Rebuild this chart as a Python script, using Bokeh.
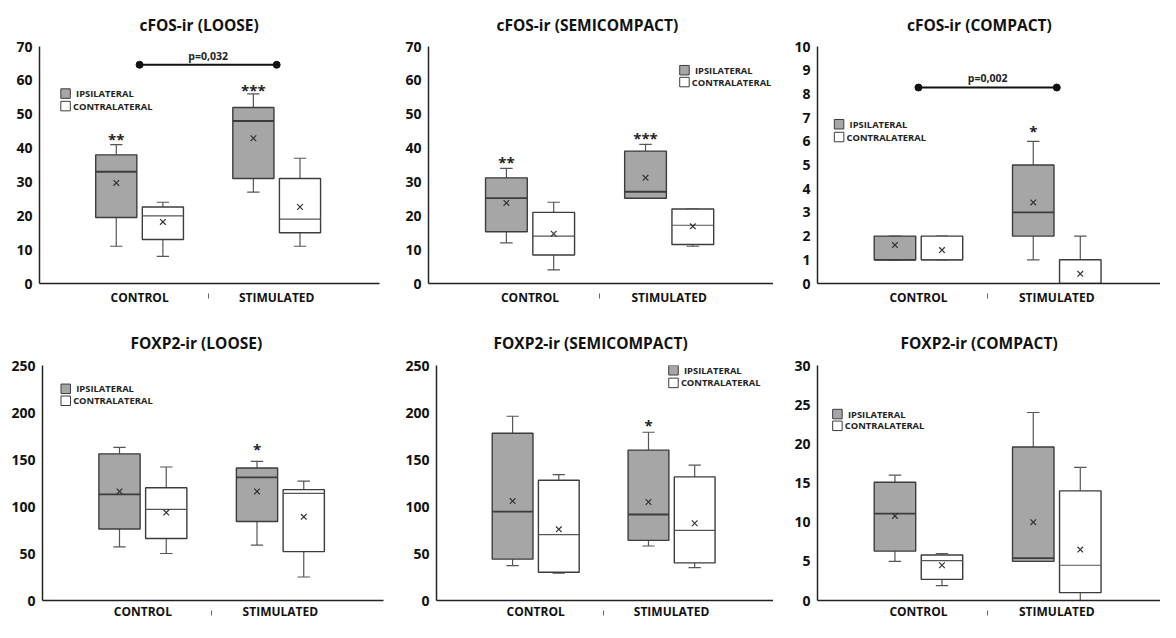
from bokeh.plotting import figure
from bokeh.layouts import column, row
from bokeh.models import Range1d, FixedTicker
from bokeh.core.properties import value
from bokeh.embed import file_html
from bokeh.resources import INLINE

# ---------------- data ----------------
CATEGORIES = ["CONTROL", "STIMULATED"]
SERIES = ["IPSILATERAL", "CONTRALATERAL"]
TITLES = ["cFOS-ir (LOOSE)", "cFOS-ir (SEMICOMPACT)", "cFOS-ir (COMPACT)",
          "FOXP2-ir (LOOSE)", "FOXP2-ir (SEMICOMPACT)", "FOXP2-ir (COMPACT)"]
Y_MAX = [70, 70, 10, 250, 250, 30]
Y_STEP = [10, 10, 1, 50, 50, 5]

# order inside each panel: control-ipsi, control-contra, stimulated-ipsi, stimulated-contra
WHISKER_LOW = [[11, 8, 27, 11], [12, 4, 25.2, 11], [1, 1, 1, 0],
               [57, 50, 59, 25], [37, 29, 58, 35], [5.0, 1.9, 5.0, 0]]
Q1 = [[19.5, 13, 31, 15], [15.3, 8.4, 25.2, 11.5], [1, 1, 2, 0],
      [76, 66, 84, 52], [44, 30, 64, 40], [6.3, 2.7, 5.0, 1.0]]
MEDIAN = [[33, 20, 48, 19], [25.2, 14, 27.1, 17.2], [1, 1, 3, 0],
          [113, 97, 131, 114], [94.5, 70, 91.5, 74.5], [11.1, 5.1, 5.4, 4.5]]
Q3 = [[38, 22.6, 52, 31], [31.2, 21, 39.1, 22], [2, 2, 5, 1],
      [156, 120, 141, 118], [178, 128, 160, 131.5], [15.1, 5.8, 19.6, 14.0]]
WHISKER_HIGH = [[41, 24, 56, 37], [34, 24, 41.1, 22], [2, 2, 6, 2],
                [163, 142, 148, 127], [196, 134, 179, 144], [16.0, 6.0, 24.0, 17.0]]
MEAN = [[29.7, 18.2, 42.9, 22.6], [23.8, 14.7, 31.2, 16.9], [1.62, 1.41, 3.42, 0.41],
        [116, 93.5, 116, 89], [105.8, 75.7, 104.8, 82.2], [10.8, 4.5, 10.0, 6.5]]
SIGNIF = [["**", "", "***", ""], ["**", "", "***", ""], ["", "", "*", ""],
          ["", "", "*", ""], ["", "", "*", ""], ["", "", "", ""]]
P_VALUES = ["p=0,032", None, "p=0,002", None, None, None]

# ---------------- layout / style ----------------
X_START, X_END = 0.27, 2.75
OFF, BOX_W, CAP_W = 0.17, 0.30, 0.09
IPSI_FILL, CONTRA_FILL = "#a6a6a6", "#ffffff"
EDGE = "#3c3c3c"
WHISK = "#555555"
FONT = "Open Sans"

# per panel: figure size, borders, title offset from frame left (px), title standoff,
# x label standoff, legend (square x, ipsi y, contra y) in data, star y (data),
# p-line y / p-text y (data)
PANEL = [
    dict(w=387, h=312, l=39, r=8, t=45, b=29, toff=100, tst=21.5, xs=-10,
         leg=(0.460, 56.1, 52.4), stars=[43.8, None, 58.3, None], pl=(64.6, 67.3)),
    dict(w=386, h=312, l=41, r=0, t=45, b=29, toff=68, tst=21.5, xs=-10,
         leg=(2.11, 63.0, 59.5), stars=[37.1, None, 44.1, None], pl=None),
    dict(w=387, h=312, l=44, r=0, t=45, b=29, toff=89.5, tst=21.5, xs=-10,
         leg=(0.426, 6.72, 6.18), stars=[None, None, 6.6, None], pl=(8.27, 8.69)),
    dict(w=387, h=310, l=42, r=4, t=53, b=22, toff=88, tst=24, xs=-13,
         leg=(0.439, 225.2, 212.5), stars=[None, None, 165, None], pl=None),
    dict(w=386, h=310, l=49, r=0, t=53, b=22, toff=57, tst=24, xs=-13,
         leg=(2.014, 244.9, 231.5), stars=[None, None, 191, None], pl=None),
    dict(w=387, h=310, l=44, r=0, t=53, b=22, toff=83, tst=24, xs=-13,
         leg=(0.414, 23.8, 22.3), stars=[None, None, None, None], pl=None),
]


def make_panel(i):
    L = PANEL[i]
    p = figure(width=L["w"], height=L["h"],
               x_range=Range1d(X_START, X_END), y_range=Range1d(0, Y_MAX[i]),
               output_backend="svg", toolbar_location=None,
               min_border_left=L["l"], min_border_right=L["r"],
               min_border_top=L["t"], min_border_bottom=L["b"])
    p.outline_line_color = None
    p.background_fill_color = "white"
    p.border_fill_color = "white"
    p.xgrid.visible = False
    p.ygrid.visible = False

    # title
    p.title.text = TITLES[i]
    p.title.align = "left"
    p.title.offset = L["toff"]
    p.title.standoff = L["tst"]
    p.title.text_font = FONT
    p.title.text_font_style = "bold"
    p.title.text_font_size = "15.5px"
    p.title.text_color = "#111111"

    # y axis
    p.yaxis.ticker = FixedTicker(ticks=list(range(0, Y_MAX[i] + 1, Y_STEP[i])))
    p.yaxis.major_tick_line_color = None
    p.yaxis.minor_tick_line_color = None
    p.yaxis.major_tick_out = 0
    p.yaxis.major_tick_in = 0
    p.yaxis.major_label_standoff = 7
    p.yaxis.major_label_text_font = FONT
    p.yaxis.major_label_text_font_style = "bold"
    p.yaxis.major_label_text_font_size = "14px"
    p.yaxis.major_label_text_color = "#111111"
    p.yaxis.axis_line_color = "#222222"
    p.yaxis.axis_line_width = 1.5

    # x axis: category labels, with a detached separator mark between them
    p.xaxis.ticker = FixedTicker(ticks=[1, 2], minor_ticks=[1.5])
    p.xaxis.major_label_overrides = {1: CATEGORIES[0], 2: CATEGORIES[1]}
    p.xaxis.major_tick_line_color = None
    p.xaxis.major_tick_out = 0
    p.xaxis.major_tick_in = 0
    p.xaxis.minor_tick_line_color = "#666666"
    p.xaxis.minor_tick_line_width = 1
    p.xaxis.minor_tick_in = -10
    p.xaxis.minor_tick_out = 15
    p.xaxis.major_label_standoff = L["xs"]
    p.xaxis.major_label_text_line_height = 0.9
    p.xaxis.major_label_text_font = FONT
    p.xaxis.major_label_text_font_style = "bold"
    p.xaxis.major_label_text_font_size = "12px"
    p.xaxis.major_label_text_color = "#111111"
    p.xaxis.axis_line_color = "#222222"
    p.xaxis.axis_line_width = 1.5

    xs = [1 - OFF, 1 + OFF, 2 - OFF, 2 + OFF]
    fills = [IPSI_FILL, CONTRA_FILL, IPSI_FILL, CONTRA_FILL]

    # whiskers
    p.segment(x0=xs, x1=xs, y0=Q3[i], y1=WHISKER_HIGH[i], line_color=WHISK, line_width=1.2)
    p.segment(x0=xs, x1=xs, y0=Q1[i], y1=WHISKER_LOW[i], line_color=WHISK, line_width=1.2)
    p.segment(x0=[x - CAP_W / 2 for x in xs], x1=[x + CAP_W / 2 for x in xs],
              y0=WHISKER_HIGH[i], y1=WHISKER_HIGH[i], line_color=WHISK, line_width=1.2)
    p.segment(x0=[x - CAP_W / 2 for x in xs], x1=[x + CAP_W / 2 for x in xs],
              y0=WHISKER_LOW[i], y1=WHISKER_LOW[i], line_color=WHISK, line_width=1.2)
    # boxes
    p.vbar(x=xs, bottom=Q1[i], top=Q3[i], width=BOX_W, fill_color=fills,
           line_color=EDGE, line_width=1.4)
    # medians
    med_col = [EDGE, "#555555", EDGE, "#555555"]
    med_w = [1.8, 1.2, 1.8, 1.2]
    p.segment(x0=[x - BOX_W / 2 for x in xs], x1=[x + BOX_W / 2 for x in xs],
              y0=MEDIAN[i], y1=MEDIAN[i], line_color=med_col, line_width=med_w)
    # means
    p.scatter(x=xs, y=MEAN[i], marker="x", size=8, line_color="#333333", line_width=1.2)

    # significance stars
    sx, sy, st = [], [], []
    for k in range(4):
        if SIGNIF[i][k] and L["stars"][k] is not None:
            sx.append(xs[k]); sy.append(L["stars"][k]); st.append(SIGNIF[i][k])
    if st:
        p.text(x=sx, y=sy, text=st, text_font=value(FONT), text_font_style="bold",
               text_font_size="15px", text_align="center", text_baseline="middle",
               text_color="#222222", y_offset=4)

    # p-value bracket
    if P_VALUES[i] and L["pl"]:
        ly, ty = L["pl"]
        p.line(x=[1, 2], y=[ly, ly], line_color="#111111", line_width=2)
        p.scatter(x=[1, 2], y=[ly, ly], marker="circle", size=7, fill_color="#111111",
                  line_color="#111111")
        p.text(x=[1.5], y=[ty], text=[P_VALUES[i]], text_font=value(FONT),
               text_font_style="bold", text_font_size="10.5px", text_align="center",
               text_baseline="middle", text_color="#222222")

    # legend
    lx, ly1, ly2 = L["leg"]
    p.rect(x=[lx, lx], y=[ly1, ly2], width=9.5, height=9.5, width_units="screen",
           height_units="screen", fill_color=[IPSI_FILL, CONTRA_FILL], line_color=EDGE,
           line_width=1)
    p.text(x=[lx], y=[ly1], text=[SERIES[0]], x_offset=10.5, text_font=value(FONT),
           text_font_style="bold", text_font_size="9.4px", text_align="left",
           text_baseline="middle", text_color="#222222")
    p.text(x=[lx], y=[ly2], text=[SERIES[1]], x_offset=7.4, text_font=value(FONT),
           text_font_style="bold", text_font_size="9.4px", text_align="left",
           text_baseline="middle", text_color="#222222")
    return p


panels = [make_panel(i) for i in range(6)]
layout = column(row(*panels[:3]), row(*panels[3:]))

open("out.html", "w").write(file_html(layout, INLINE))
